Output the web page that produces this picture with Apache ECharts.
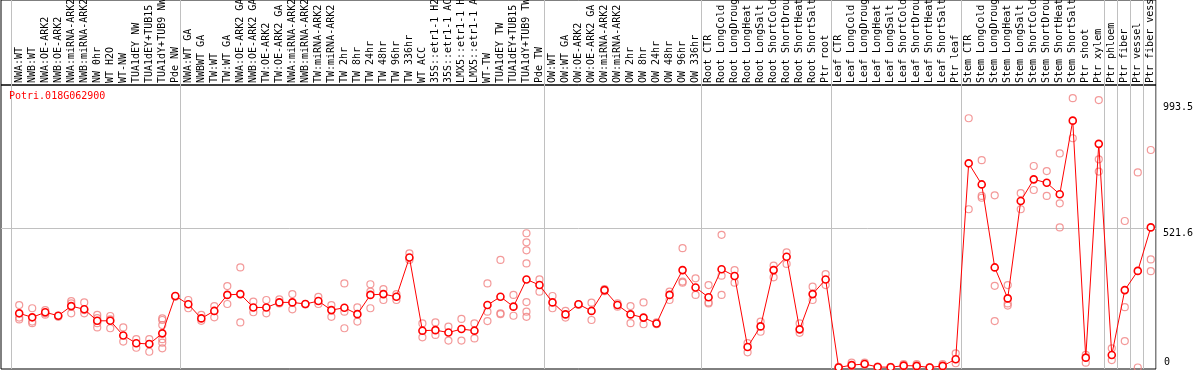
<!DOCTYPE html>
<html>
<head>
<meta charset="utf-8">
<script src="https://cdn.jsdelivr.net/npm/echarts@6/dist/echarts.min.js"></script>
<style>
html,body{margin:0;padding:0;background:#fff;}
#chart{width:1194px;height:370px;}
</style>
</head>
<body>
<div id="chart"></div>
<script>
const geneId = 'Potri.018G062900';

const categories = [
  'NWA:WT','NWB:WT','NWA:OE-ARK2','NWB:OE-ARK2','NWA:miRNA-ARK2','NWB:miRNA-ARK2','NW 0hr','WT H2O','WT-NW',
  'TUA1dEY NW','TUA1dEY+TUB15 NW','TUA1dY+TUB9 NW','Pde NW',
  'NWA:WT GA','NWBWT GA','TW:WT','TW:WT GA','NWA:OE-ARK2 GA','NWB:OE-ARK2 GA','TW:OE-ARK2','TW:OE-ARK2 GA',
  'NWA:miRNA-ARK2 GA','NWB:miRNA-ARK2 GA','TW:miRNA-ARK2 GA','TW:miRNA-ARK2','TW 2hr','TW 8hr','TW 24hr','TW 48hr',
  'TW 96hr','TW 336hr','WT ACC','35S::etr1-1 H2O','35S::etr1-1 ACC','LMX5::etr1-1 H2O','LMX5::etr1-1 ACC','WT-TW',
  'TUA1dEY TW','TUA1dEY+TUB15 TW','TUA1dY+TUB9 TW','Pde TW',
  'OW:WT','OW:WT GA','OW:OE-ARK2','OW:OE-ARK2 GA','OW:miRNA-ARK2','OW:miRNA-ARK2','OW 2hr','OW 8hr','OW 24hr',
  'OW 48hr','OW 96hr','OW 336hr',
  'Root CTR','Root LongCold','Root LongDrought','Root LongHeat','Root LongSalt','Root ShortCold','Root ShortDrought',
  'Root ShortHeat','Root ShortSalt','Ptr root',
  'Leaf CTR','Leaf LongCold','Leaf LongDrought','Leaf LongHeat','Leaf LongSalt','Leaf ShortCold','Leaf ShortDrought',
  'Leaf ShortHeat','Leaf ShortSalt','Ptr leaf',
  'Stem CTR','Stem LongCold','Stem LongDrought','Stem LongHeat','Stem LongSalt','Stem ShortCold','Stem ShortDrought',
  'Stem ShortHeat','Stem ShortSalt','Ptr shoot','Ptr xylem',
  'Ptr phloem','Ptr fiber','Ptr vessel','Ptr fiber vessel'
];

// number of categories in each block separated by a vertical grid line
const groupSizes = [13, 28, 12, 10, 10, 11, 1, 1, 1, 1];

const meanValues = [
  203,188,207,194,230,218,175,175,120,91,88,128,268,
  237,184,212,272,275,225,225,244,244,238,249,215,224,200,272,275,265,412,138,140,131,144,138,234,265,228,330,309,
  244,199,237,212,290,234,199,187,165,272,365,300,
  263,368,343,77,154,365,415,143,275,330,
  0,9,13,2,1,7,6,0,6,31,
  765,686,375,259,624,705,692,649,925,37,838,
  47,290,362,525
];

const replicateValues = [
  [234,187,180],[222,172,166],[215,203,198],[194,190],[249,240,203],[244,203,215],[197,166,150,185],[193,147,180],
  [150,97],[106,74],[106,59,88],[184,178,159,106,93,72],[268,265],
  [253,222],[197,175],[230,188],[305,238],[375,169],[247,207],[253,203],[255,240],[275,218],[238,236],[265,238],
  [234,190],[315,209,147],[225,172],[312,284,222],[294,253],[275,253],[428,403],[165,113],[169,122],[153,101],
  [182,101],[165,109],[315,209,174],[403,203,200],[272,194],[503,469,439,390,245,209,190],[330,284],
  [268,222],[212,187],[237,235],[243,178],[294,286],[240,228],[230,166],[244,162],[169,162],[284,253],[447,322,318],[334,272],
  [309,240,244],[497,344,272],[365,318],[91,57],[172,134],[382,338],[431,388],[165,130],[303,253],[350,309],
  [2,0],[18,5],[18,10],[3,0],[2,0],[13,3],[13,2],[1,0],[13,2],[53,16],
  [934,593],[777,643,636],[645,306,174],[309,240,232],[653,593],[755,665],[736,643],[802,615,525],[1009,859],[47,18],[1002,780,734],
  [72,28],[549,226,99],[731,0],[815,405,361]
];

const yTickLabels = [0, 521.6, 993.5];

// ---- derived structures ----
const boundaries = [];
let b = -0.6;
boundaries.push(b);
groupSizes.forEach(s => { b += s; boundaries.push(+b.toFixed(2)); });

const meanData = meanValues.map((v, i) => [i, v]);
const repData = [];
replicateValues.forEach((arr, i) => arr.forEach(v => repData.push([i, v])));

const X_MIN = -1.4, X_MAX = 87.4;
const Y_MIN = -5.6, Y_MAX = 1058.5;
const FONT = 'DejaVu Sans Mono';

const chart = echarts.init(document.getElementById('chart'), null, {renderer: 'canvas'});
chart.setOption({
  animation: false,
  backgroundColor: '#fff',
  title: {
    text: geneId, left: 9, top: 91, padding: 0,
    textStyle: {color: '#ff0000', fontSize: 10, fontWeight: 'normal', fontFamily: FONT}
  },
  grid: [
    {left: 1, right: 38, top: 85, bottom: 1, show: true, borderColor: '#000', borderWidth: 1,
      backgroundColor: 'transparent', containLabel: false, outerBoundsMode: 'none'},
    {left: 1, right: 38, top: 0, height: 85, show: true, borderColor: '#000', borderWidth: 1,
      backgroundColor: 'transparent', containLabel: false, outerBoundsMode: 'none'}
  ],
  xAxis: [
    {
      type: 'value', gridIndex: 0, position: 'top', min: X_MIN, max: X_MAX,
      axisLine: {show: false},
      axisTick: {show: false, customValues: boundaries},
      splitLine: {show: true, lineStyle: {color: '#c0c0c0', width: 1}},
      axisLabel: {
        customValues: categories.map((c, i) => i),
        formatter: v => categories[Math.round(v)],
        rotate: 90, margin: 2, fontSize: 10, fontFamily: FONT, color: '#000',
        hideOverlap: false
      }
    },
    {
      type: 'value', gridIndex: 1, min: X_MIN, max: X_MAX,
      axisLine: {show: false},
      axisTick: {show: false, customValues: boundaries},
      axisLabel: {show: false},
      splitLine: {show: true, lineStyle: {color: '#c0c0c0', width: 1}}
    }
  ],
  yAxis: [
    {
      type: 'value', gridIndex: 0, position: 'right', min: Y_MIN, max: Y_MAX,
      axisLine: {show: false},
      axisTick: {show: false, customValues: [yTickLabels[1]]},
      splitLine: {show: true, lineStyle: {color: '#c0c0c0', width: 1}},
      axisLabel: {customValues: [yTickLabels[0]], formatter: v => String(v), verticalAlign: 'bottom',
        margin: 8, fontSize: 10, fontFamily: FONT, color: '#000'}
    },
    {
      type: 'value', gridIndex: 0, position: 'right', min: Y_MIN, max: Y_MAX,
      axisLine: {show: false},
      axisTick: {show: false},
      splitLine: {show: false},
      axisLabel: {customValues: yTickLabels.slice(1), formatter: v => String(v), verticalAlign: 'top',
        margin: 7, fontSize: 10, fontFamily: FONT, color: '#000'}
    },
    {
      type: 'value', gridIndex: 1, min: 0, max: 1,
      axisLine: {show: false}, axisTick: {show: false}, axisLabel: {show: false}, splitLine: {show: false}
    }
  ],
  series: [
    {
      type: 'scatter', xAxisIndex: 0, yAxisIndex: 0, data: repData,
      symbol: 'circle', symbolSize: 7, z: 2, silent: true,
      itemStyle: {color: 'transparent', borderColor: '#f08080', borderWidth: 1.2}
    },
    {
      type: 'line', xAxisIndex: 0, yAxisIndex: 0, data: meanData,
      symbol: 'circle', symbolSize: 7, showAllSymbol: true, z: 3, silent: true,
      lineStyle: {color: '#ff0000', width: 1},
      itemStyle: {color: '#ffffff', borderColor: '#ff0000', borderWidth: 1.6}
    }
  ]
});
</script>
</body>
</html>
